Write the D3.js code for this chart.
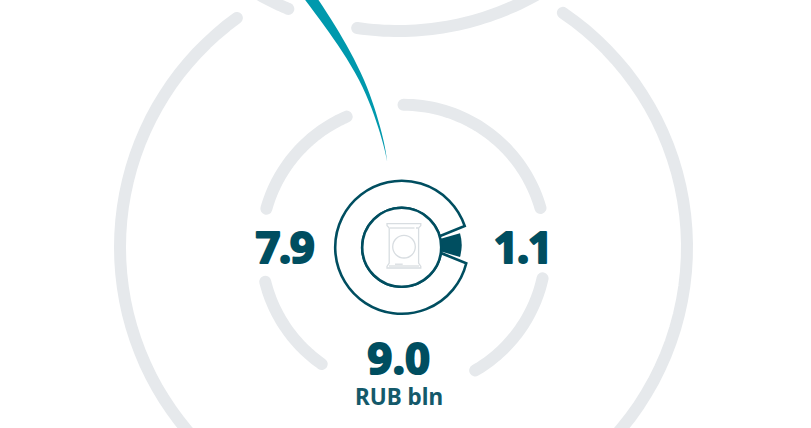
<!DOCTYPE html>
<html><head><meta charset="utf-8">
<style>html,body{margin:0;padding:0;background:#fff}svg{display:block}text{font-family:"Noto Sans",sans-serif}</style>
<script src="https://cdn.jsdelivr.net/npm/d3@7"></script></head>
<body><div id="c"></div>
<script>
// values
const valueLabels = ["7.9","1.1","9.0"];
const sliceValues = [7.9,1.1];
const totalValue = 9.0;
const unitLabel = "RUB bln";
// guide rings: [start, end] degrees clockwise from north
const innerRingArcs = [[-74.3,-23.5],[0,74],[102.6,149.8],[-104,-145]];
const outerRingArcs = [[-36,-144],[34.2,150]];
const neighbourRingArcs = [[188.3,145],[202.8,216]];
// flow ribbon: y, left x, right x in page units
const flowY  = [-10,26.7,80,133,162];
const flowX0 = [297.5,325,359,380,387.3];
const flowX1 = [311.7,335.7,364,381.7,387.3];

const W=811,H=428, cx=401.7, cy=247.3, ringCx=403.5;
const apexX=17.7, apexY=-3;     // where the gap's edges converge, relative to donut centre
const sliceX=17, sliceY=-2.2;   // apex of the small slice, relative to donut centre
const rOuter=66.5, rInner=39.5, rSlice=43;
const dark="#004e60", grey="#e6e9ec", teal="#0099ad", icon="#d8dde1";
const rad=d3.scaleLinear().domain([0,360]).range([0,2*Math.PI]);
const px=d3.scaleLinear().domain([0,W]).range([0,W]);
const svg=d3.select("#c").append("svg").attr("width",W).attr("height",H);

function ring(arcs,r,x,y){
  const g=svg.append("g").attr("transform",`translate(${x},${y})`);
  const line=d3.lineRadial().radius(r).angle(t=>rad(t));
  g.selectAll("path").data(arcs).join("path")
   .attr("d",d=>line(d3.range(0,41).map(i=>d[0]+(d[1]-d[0])*i/40)))
   .attr("fill","none").attr("stroke",grey).attr("stroke-width",12).attr("stroke-linecap","round");
}
ring(outerRingArcs,283.5,ringCx,cy);
ring(neighbourRingArcs,283,398,-252);
ring(innerRingArcs,142.5,ringCx,cy);

// flow
const flowArea=d3.area().y(d=>px(d[0])).x0(d=>px(d[1])).x1(d=>px(d[2])).curve(d3.curveNatural);
svg.append("path").datum(d3.zip(flowY,flowX0,flowX1)).attr("d",flowArea).attr("fill",teal);

// donut
const halfGap=rad(sliceValues[1]/totalValue*180);
function hit(ang,r){ // ray from the apex at angle ang meets circle r
  const ux=Math.cos(ang),uy=Math.sin(ang),b=apexX*ux+apexY*uy;
  const t=-b+Math.sqrt(b*b-apexX*apexX-apexY*apexY+r*r);
  return Math.atan2(apexY+t*uy,apexX+t*ux);
}
const g=svg.append("g").attr("transform",`translate(${cx},${cy})`);
const p=d3.path();
p.arc(0,0,rOuter,hit(-halfGap,rOuter),hit(halfGap,rOuter),true);
p.arc(0,0,rInner,hit(halfGap,rInner),hit(-halfGap,rInner),false);
p.closePath();
g.append("path").attr("d",p.toString()).attr("fill","#fff").attr("stroke",dark).attr("stroke-width",2.6).attr("stroke-linejoin","miter");
// the small slice, inset inside the gap
const arc=d3.arc();
g.append("path").attr("transform",`translate(${sliceX},${sliceY})`)
 .attr("d",arc({innerRadius:0,outerRadius:rSlice,startAngle:Math.PI/2-halfGap*0.73,endAngle:Math.PI/2+halfGap*0.73}))
 .attr("fill",dark);
g.append("circle").attr("r",rInner).attr("fill","#fff").attr("stroke",dark).attr("stroke-width",2.6);

// washing machine icon
const ic=svg.append("g").attr("fill","none").attr("stroke",icon).attr("stroke-width",1.3);
ic.append("path").attr("d","M387 223.6H420.8V225.6L418.6 228V263L420.8 266.5V268H387V266.5L389.2 263V228L387 225.6Z");
ic.append("path").attr("d","M390 228H414.5");
ic.append("path").attr("d","M389 266H419");
ic.append("circle").attr("cx",404).attr("cy",246.7).attr("r",11.3);
ic.append("path").attr("d","M395 264.2H402.7");
ic.append("circle").attr("cx",417).attr("cy",228).attr("r",0.4);

// labels
const big=(s,ls)=>s.attr("text-anchor","middle").attr("font-size",43).attr("font-weight",700).attr("fill",dark)
  .attr("stroke",dark).attr("stroke-width",2.2).attr("stroke-linejoin","round").attr("letter-spacing",ls);
svg.append("text").attr("x",284.5).attr("y",262.5).call(big,-1.2).text(valueLabels[0]);
svg.append("text").attr("x",522.5).attr("y",262.5).call(big,-1.2).text(valueLabels[1]);
svg.append("text").attr("x",399).attr("y",374).call(big,0.6).text(valueLabels[2]);
svg.append("text").attr("x",399).attr("y",405).attr("text-anchor","middle").attr("font-size",22.5).attr("font-weight",700).attr("fill","#14596a").text(unitLabel);
</script></body></html>
